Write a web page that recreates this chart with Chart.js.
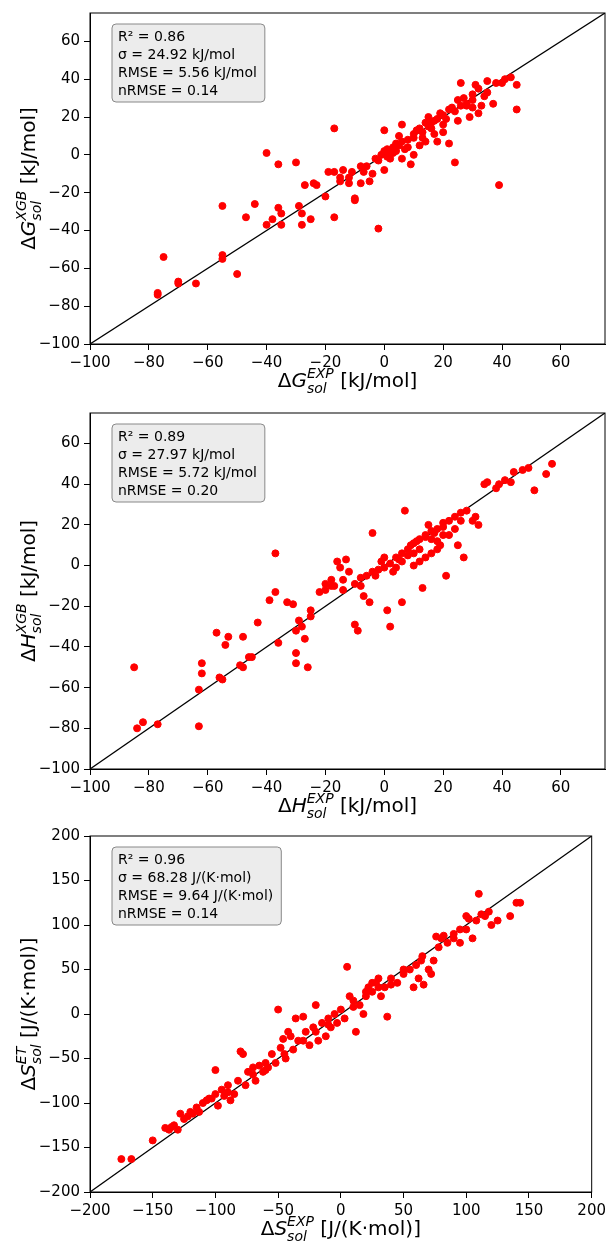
<!DOCTYPE html>
<html>
<head>
<meta charset="UTF-8">
<script src="https://cdn.jsdelivr.net/npm/chart.js"></script>
<style>
  body { margin: 0; background: #fff; }
  .wrap { position: absolute; left: 0; width: 610px; }
</style>
</head>
<body>
<div class="wrap" style="top:0;height:400px"><canvas id="c1"></canvas></div>
<div class="wrap" style="top:400px;height:420px"><canvas id="c2"></canvas></div>
<div class="wrap" style="top:820px;height:422px"><canvas id="c3"></canvas></div>
<script>
// ---- data ----
const gPoints = [[-77,-74],[-77,-73],[-75,-54],[-70,-68],[-70,-67],[-64,-68],[-55,-53],[-55,-55],[-55,-27],[-50,-63],[-47,-33],[-44,-26],[-40,1],[-40,-37],[-38,-34],[-36,-5],[-36,-28],[-35,-31],[-35,-37],[-30,-4],[-29,-27],[-28,-31],[-28,-37],[-27,-16],[-25,-34],[-24,-15],[-23,-16],[-20,-22],[-17,-33],[-17,14],[-17,-9],[-15,-12],[-14,-8],[-12,-15],[-10,-24],[-10,-23],[-8,-15],[-6,-6],[-5,-14],[-4,-10],[-2,-39],[-2,-3],[0,-8],[0,13],[1,-1],[2,1],[3,4],[4,6],[5,10],[6,16],[8,4],[9,-5],[10,11],[12,5],[13,9],[14,17],[15,20],[16,14],[17,11],[18,7],[19,22],[20,12],[21,19],[22,6],[23,25],[24,-4],[25,18],[26,38],[27,30],[28,27],[29,20],[30,29],[31,37],[32,22],[33,26],[35,33],[37,27],[38,38],[39,-16],[40,38],[41,40],[43,41],[45,37],[45,24],[-3,-2],[-1,0],[0,2],[1,3],[2,-2],[3,1],[4,2],[5,5],[6,7],[7,3],[8,8],[10,9],[11,13],[12,14],[13,12],[15,15],[16,17],[17,18],[18,19],[20,21],[22,24],[24,23],[26,26],[28,26],[30,32],[32,35],[34,31],[10,0],[14,7],[6,-2],[-8,-6],[-11,-9],[-12,-12],[-15,-14],[-19,-9],[-7,-9],[20,16],[25,29],[30,25],[35,39]];
const hPoints = [[-85,-50],[-84,-80],[-82,-77],[-77,-78],[-63,-79],[-63,-61],[-62,-48],[-62,-53],[-57,-33],[-56,-55],[-55,-56],[-54,-39],[-53,-35],[-49,-49],[-48,-50],[-48,-35],[-46,-45],[-45,-45],[-43,-28],[-39,-17],[-37,6],[-37,-13],[-36,-38],[-33,-18],[-31,-19],[-30,-48],[-30,-43],[-30,-32],[-29,-27],[-28,-30],[-27,-36],[-26,-50],[-25,-22],[-25,-25],[-22,-13],[-20,-9],[-18,-7],[-17,-10],[-16,2],[-15,-1],[-14,-7],[-13,3],[-12,-3],[-10,-29],[-9,-32],[-8,-6],[-7,-15],[-5,-18],[-4,16],[-3,-5],[-2,-2],[-1,2],[0,4],[1,-22],[2,-30],[3,-3],[4,-1],[5,3],[6,-18],[7,27],[8,5],[9,10],[10,6],[11,12],[12,8],[13,-11],[14,14],[15,20],[16,13],[17,16],[18,12],[19,10],[20,21],[21,-5],[22,15],[24,18],[25,10],[26,26],[27,4],[28,27],[30,22],[31,24],[32,20],[34,40],[35,41],[38,38],[39,40],[41,42],[43,41],[44,46],[47,47],[49,48],[51,37],[55,45],[57,50],[-10,-9],[-8,-10],[-6,-5],[-4,-3],[0,-1],[2,1],[4,4],[6,6],[8,8],[10,11],[12,13],[14,15],[16,17],[18,18],[20,19],[22,22],[12,2],[14,4],[16,6],[18,8],[20,15],[-18,-10],[-20,-12],[-14,-12],[10,0],[6,2],[24,24],[26,22]];
const sPoints = [[-175,-163],[-167,-163],[-150,-142],[-137,-130],[-133,-125],[-130,-130],[-128,-112],[-125,-118],[-122,-115],[-118,-112],[-113,-110],[-110,-100],[-107,-97],[-103,-95],[-100,-63],[-100,-90],[-98,-103],[-95,-85],[-93,-92],[-90,-80],[-88,-97],[-85,-90],[-82,-75],[-80,-42],[-78,-45],[-76,-80],[-74,-65],[-70,-60],[-68,-75],[-65,-58],[-62,-65],[-60,-55],[-58,-60],[-55,-45],[-52,-55],[-50,5],[-48,-38],[-46,-28],[-44,-50],[-42,-20],[-40,-25],[-38,-40],[-36,-5],[-34,-30],[-30,-3],[-28,-20],[-25,-35],[-22,-15],[-20,10],[-18,-30],[-15,-10],[-12,-25],[-10,-5],[-8,-15],[-5,0],[-3,-10],[0,5],[3,-5],[5,53],[7,20],[10,15],[12,-20],[15,10],[18,0],[20,20],[22,30],[25,25],[28,35],[30,40],[32,20],[35,30],[37,-3],[40,33],[45,35],[50,45],[55,50],[58,30],[62,40],[64,60],[66,33],[70,50],[72,45],[74,60],[76,87],[78,75],[82,88],[85,80],[90,90],[95,80],[100,95],[102,107],[105,85],[108,105],[110,135],[112,112],[115,110],[118,115],[120,100],[125,105],[135,110],[140,125],[143,125],[-140,-128],[-135,-127],[-120,-110],[-115,-105],[-105,-95],[-90,-88],[-70,-68],[-60,-63],[-45,-45],[-30,-30],[-20,-20],[-10,-12],[10,8],[20,25],[25,35],[30,30],[40,40],[50,50],[60,55],[65,65],[80,85],[90,85],[95,95],[100,110]];

const gStats = ['R² = 0.86', 'σ = 24.92 kJ/mol', 'RMSE = 5.56 kJ/mol', 'nRMSE = 0.14'];
const hStats = ['R² = 0.89', 'σ = 27.97 kJ/mol', 'RMSE = 5.72 kJ/mol', 'nRMSE = 0.20'];
const sStats = ['R² = 0.96', 'σ = 68.28 J/(K·mol)', 'RMSE = 9.64 J/(K·mol)', 'nRMSE = 0.14'];

const FONT = '"DejaVu Sans", sans-serif';

// draws  Δ X_sub^sup unit  centred at (0,0)
function drawLabel(ctx, sym, sub, sup, unit, size) {
    const big = size + 'px ' + FONT;
    const it = 'italic ' + size + 'px ' + FONT;
    const small = 'italic ' + Math.round(size * 0.7) + 'px ' + FONT;
    ctx.font = big; const wD = ctx.measureText('Δ').width; const wU = ctx.measureText(unit).width;
    ctx.font = it; const wS = ctx.measureText(sym).width;
    ctx.font = small; const wSS = Math.max(ctx.measureText(sub).width, ctx.measureText(sup).width);
    let x = -(wD + wS + wSS + wU) / 2;
    ctx.textBaseline = 'middle'; ctx.textAlign = 'left'; ctx.fillStyle = '#000';
    ctx.font = big; ctx.fillText('Δ', x, 0); x += wD;
    ctx.font = it; ctx.fillText(sym, x, 0); x += wS;
    ctx.font = small; ctx.fillText(sup, x, -size * 0.4); ctx.fillText(sub, x, size * 0.35); x += wSS;
    ctx.font = big; ctx.fillText(unit, x, 0);
}

function makeChart(id, pts, stats, min, max, step, lastTick, xl, yl, pad, xh) {
    const decor = {
        id: 'decor',
        afterDraw(chart) {
            const ctx = chart.ctx, a = chart.chartArea;
            // full frame round the plot
            ctx.save();
            ctx.strokeStyle = '#000'; ctx.lineWidth = 1;
            ctx.strokeRect(a.left, a.top, a.right - a.left, a.bottom - a.top);
            ctx.restore();
            ctx.save();
            ctx.translate((a.left + a.right) / 2, a.bottom + 38);
            drawLabel(ctx, xl[0], xl[1], xl[2], xl[3], 20);
            ctx.restore();
            ctx.save();
            ctx.translate(30, (a.top + a.bottom) / 2);
            ctx.rotate(-Math.PI / 2);
            drawLabel(ctx, yl[0], yl[1], yl[2], yl[3], 20);
            ctx.restore();
            // stats box
            ctx.save();
            ctx.font = '14px ' + FONT;
            let w = 0; stats.forEach(s => w = Math.max(w, ctx.measureText(s).width));
            const bx = a.left + 22, by = a.top + 11, bw = w + 14, bh = 78;
            ctx.beginPath(); ctx.roundRect(bx, by, bw, bh, 4);
            ctx.fillStyle = '#ececec'; ctx.fill();
            ctx.strokeStyle = '#888'; ctx.lineWidth = 1; ctx.stroke();
            ctx.fillStyle = '#000'; ctx.textBaseline = 'middle';
            stats.forEach((s, i) => ctx.fillText(s, bx + 6, by + 13 + i * 18));
            ctx.restore();
        }
    };
    const axis = (isX) => ({
        type: 'linear', min: min, max: max,
        afterBuildTicks: s => { s.ticks = s.ticks.filter(t => t.value <= lastTick); },
        ticks: { stepSize: step, color: '#000', font: { size: 15, family: FONT }, padding: 4,
                 callback: v => String(v).replace('-', '\u2212') },
        grid: { drawOnChartArea: false, drawTicks: true, tickLength: 6, color: '#000' },
        border: { display: true, color: '#000', width: 1 },
        afterFit: s => { if (isX) s.height = xh; else s.width = 90; }
    });
    return new Chart(document.getElementById(id), {
        type: 'scatter',
        data: { datasets: [
            { data: pts.map(p => ({ x: p[0], y: p[1] })), backgroundColor: '#ff0000', borderColor: '#ff0000', pointRadius: 3.5 },
            { type: 'line', data: [{ x: min, y: min }, { x: max, y: max }], borderColor: '#000', borderWidth: 1.3, pointRadius: 0 }
        ] },
        options: {
            responsive: true, maintainAspectRatio: false, animation: false,
            layout: { padding: pad },
            plugins: { legend: { display: false }, tooltip: { enabled: false } },
            scales: { x: axis(true), y: axis(false) }
        },
        plugins: [decor]
    });
}

makeChart('c1', gPoints, gStats, -100, 75, 20, 60, ['G', 'sol', 'EXP', ' [kJ/mol]'], ['G', 'sol', 'XGB', ' [kJ/mol]'],
    { left: 0, right: 1, top: 9, bottom: 0 }, 56);
makeChart('c2', hPoints, hStats, -100, 75, 20, 60, ['H', 'sol', 'EXP', ' [kJ/mol]'], ['H', 'sol', 'XGB', ' [kJ/mol]'],
    { left: 0, right: 1, top: 8, bottom: 0 }, 51);
makeChart('c3', sPoints, sStats, -200, 200, 50, 200, ['S', 'sol', 'EXP', ' [J/(K·mol)]'], ['S', 'sol', 'ET', ' [J/(K·mol)]'],
    { left: 0, right: 16, top: 16, bottom: 0 }, 50);
</script>
</body>
</html>
